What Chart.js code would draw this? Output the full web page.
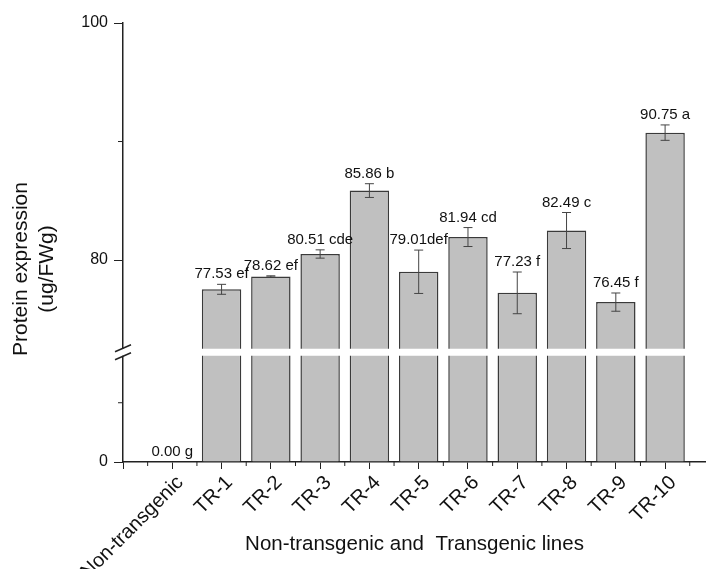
<!DOCTYPE html>
<html>
<head>
<meta charset="utf-8">
<script src="https://cdn.jsdelivr.net/npm/chart.js@4.4.0/dist/chart.umd.min.js"></script>
<style>
  html, body { margin: 0; padding: 0; background: #fff; }
</style>
</head>
<body>
<canvas id="proteinChart" width="706" height="569"></canvas>
<script>
const lines = ['Non-transgenic', 'TR-1', 'TR-2', 'TR-3', 'TR-4', 'TR-5', 'TR-6', 'TR-7', 'TR-8', 'TR-9', 'TR-10'];
const protein = [0, 77.53, 78.62, 80.51, 85.86, 79.01, 81.94, 77.23, 82.49, 76.45, 90.75];
const proteinErr = [0, 0.42, 0.05, 0.35, 0.58, 1.83, 0.8, 1.76, 1.52, 0.77, 0.65];
const barLabels = ['0.00 g', '77.53 ef', '78.62 ef', '80.51 cde', '85.86 b', '79.01def', '81.94 cd', '77.23 f', '82.49 c', '76.45 f', '90.75 a'];
const highRange = [72.22, 100];   // upper part of the broken axis
const lowRange = [0, 9.26];       // lower part
const highMinor = [90];
const lowMinor = [5];

Chart.defaults.font.family = '"Liberation Sans", Arial, sans-serif';
Chart.defaults.color = '#111';

const barStyle = {
    backgroundColor: '#c0c0c0',
    borderColor: '#3a3a3a',
    borderWidth: 1.5,
    borderSkipped: 'start',
    barPercentage: 0.8,
    categoryPercentage: 1,
    grouped: false,
    clip: 0
};

// error bars, value labels, axis break and minor ticks
const extras = {
    id: 'extras',
    afterLayout(chart) {
        // y title sits a bit lower than the plot centre in the original
        chart.titleBlock.bottom = chart.scales.x.bottom - 54;
    },
    afterDatasetsDraw(chart) {
        const ctx = chart.ctx;
        const x = chart.scales.x, hi = chart.scales.yHigh, lo = chart.scales.yLow;
        ctx.save();
        ctx.strokeStyle = '#444';
        ctx.lineWidth = 1;
        ctx.fillStyle = '#111';
        ctx.font = '15px "Liberation Sans", Arial, sans-serif';
        ctx.textAlign = 'center';
        ctx.textBaseline = 'alphabetic';
        protein.forEach((v, i) => {
            const y = v >= highRange[0] ? hi : lo;
            const px = x.getPixelForValue(i);
            const top = y.getPixelForValue(v + proteinErr[i]);
            const bot = y.getPixelForValue(v - proteinErr[i]);
            if (proteinErr[i] > 0) {
                ctx.beginPath();
                ctx.moveTo(px, top); ctx.lineTo(px, bot);
                ctx.moveTo(px - 4.5, top); ctx.lineTo(px + 4.5, top);
                ctx.moveTo(px - 4.5, bot); ctx.lineTo(px + 4.5, bot);
                ctx.stroke();
            }
            ctx.fillText(barLabels[i], px, top - 6);
        });

        // white gap of the broken axis
        const gapY = hi.bottom;
        const axisX = x.left;
        ctx.fillStyle = '#fff';
        ctx.fillRect(axisX - 3, gapY - 3.5, chart.width, 7);
        ctx.strokeStyle = '#222';
        ctx.lineWidth = 1.5;
        ctx.beginPath();
        ctx.moveTo(axisX - 8, gapY - 0.5); ctx.lineTo(axisX + 8, gapY - 7.5);
        ctx.moveTo(axisX - 8, gapY + 7.5); ctx.lineTo(axisX + 8, gapY + 0.5);
        ctx.stroke();

        // minor ticks
        ctx.lineWidth = 1;
        ctx.beginPath();
        highMinor.forEach(v => {
            const py = hi.getPixelForValue(v);
            ctx.moveTo(axisX - 5, py); ctx.lineTo(axisX, py);
        });
        lowMinor.forEach(v => {
            const py = lo.getPixelForValue(v);
            ctx.moveTo(axisX - 5, py); ctx.lineTo(axisX, py);
        });
        for (let i = -1; i < lines.length; i++) {
            const px = x.getPixelForValue(i + 0.5);
            if (px > x.right) break;
            ctx.moveTo(px, x.top); ctx.lineTo(px, x.top + 4);
        }
        ctx.stroke();
        ctx.restore();
    }
};

const yCommon = {
    type: 'linear',
    position: 'left',
    stack: 'protein',
    beginAtZero: false,
    border: { color: '#222', width: 1.5 },
    grid: { drawOnChartArea: false, tickLength: 9, tickColor: '#222' },
    afterFit(scale) { scale.width = 54.6; }
};

const ctx = document.getElementById('proteinChart').getContext('2d');
new Chart(ctx, {
    type: 'bar',
    data: {
        datasets: [
            Object.assign({
                label: 'low',
                yAxisID: 'yLow',
                data: protein.map((v, i) => ({ x: i, y: v }))
            }, barStyle),
            Object.assign({
                label: 'high',
                yAxisID: 'yHigh',
                base: highRange[0],
                data: protein.map((v, i) => ({ x: i, y: v >= highRange[0] ? v : null }))
            }, barStyle)
        ]
    },
    options: {
        responsive: false,
        animation: false,
        devicePixelRatio: 1,
        layout: { padding: { top: 23, right: 0, bottom: 0, left: 0 } },
        plugins: {
            legend: { display: false },
            tooltip: { enabled: false },
            title: {
                display: true,
                position: 'left',
                text: ['Protein expression', '(ug/FWg)'],
                font: { size: 21, weight: 'normal' },
                color: '#111',
                padding: { top: 9, bottom: 9 }
            }
        },
        scales: {
            x: {
                type: 'linear',
                min: -1,
                max: 10.83,
                offset: false,
                border: { color: '#222', width: 1.5 },
                grid: { drawOnChartArea: false, offset: false, tickLength: 7, tickColor: '#222' },
                ticks: {
                    stepSize: 1,
                    includeBounds: false,
                    autoSkip: false,
                    minRotation: 45,
                    maxRotation: 45,
                    padding: 2,
                    labelOffset: 8,
                    font: { size: 20 },
                    callback: v => lines[Math.round(v)] || ''
                },
                title: {
                    display: true,
                    text: 'Non-transgenic and  Transgenic lines',
                    font: { size: 20.5 },
                    padding: { top: 4, bottom: 12 }
                },
                afterFit(scale) {
                    scale.height = 107;
                    scale.paddingRight = 0;
                    scale.paddingLeft = 0;
                }
            },
            yLow: Object.assign({}, yCommon, {
                min: lowRange[0],
                max: lowRange[1],
                stackWeight: 1,
                ticks: { stepSize: 10, includeBounds: false, padding: 6, font: { size: 16 } }
            }),
            yHigh: Object.assign({}, yCommon, {
                min: highRange[0],
                max: highRange[1],
                stackWeight: 3,
                ticks: { stepSize: 20, includeBounds: false, padding: 6, font: { size: 16 } }
            })
        }
    },
    plugins: [extras]
});
</script>
</body>
</html>
